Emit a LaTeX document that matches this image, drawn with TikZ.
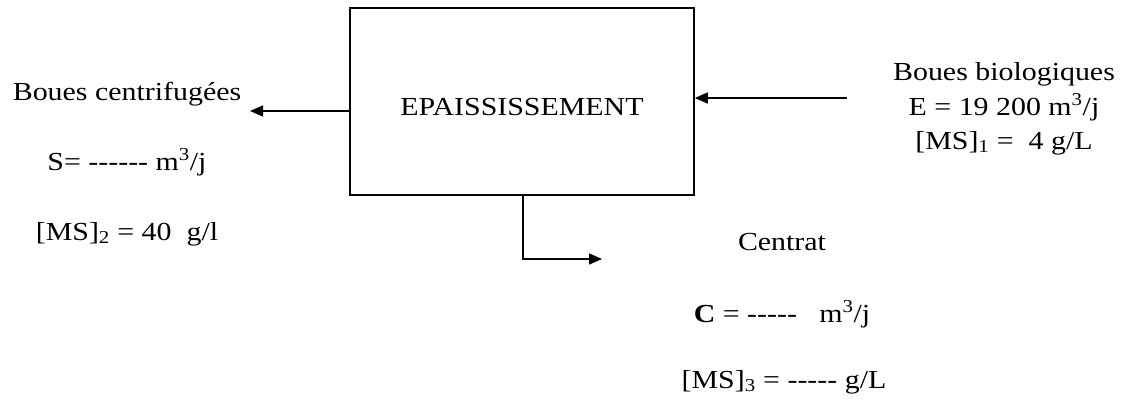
\documentclass[tikz,border=0pt]{standalone}
\usepackage{fontspec}
\setmainfont{Liberation Serif}[FakeStretch=1.15]
\usetikzlibrary{arrows.meta}
\def\hh{-\kern0pt}
\begin{document}
\begin{tikzpicture}[x=1pt,y=-1pt,
  txt/.style={font=\fontsize{26}{34}\selectfont, inner sep=0pt, anchor=base, align=center},
  boxst/.style={draw, line width=1.6pt, minimum width=344pt, minimum height=187pt, inner sep=0pt},
  arr/.style={line width=1.6pt, -{Triangle[length=13pt,width=11pt]}}]
\useasboundingbox (0,0) rectangle (1126,400);
\node[boxst] (box) at (522,101.5) {};
\node[txt] (lbl) at (522,115) {EPAISSISSEMENT};
% left output
\node[txt] (bc) at (127,100) {Boues centrifugées};
\node[txt] (s) at (127,170) {S= \hh\hh\hh\hh\hh\hh{} m\textsuperscript{3}/j};
\node[txt] (ms2) at (127,240) {[MS]\textsubscript{2} = 40\ \ g/l};
% right input
\node[txt] (bb) at (1004,80) {Boues biologiques};
\node[txt] (e) at (1004,115) {E = 19 200 m\textsuperscript{3}/j};
\node[txt] (ms1) at (1004,149) {[MS]\textsubscript{1} =\ \ 4 g/L};
% bottom output
\node[txt] (cen) at (782,250) {Centrat};
\node[txt] (c) at (782,322) {\textbf{C} = \hh\hh\hh\hh\hh{}\ \ \ m\textsuperscript{3}/j};
\node[txt] (ms3) at (784,388) {[MS]\textsubscript{3} = \hh\hh\hh\hh\hh{}\ g/L};
% connectors
\coordinate (sOut) at (250,111);
\coordinate (eIn) at (847,98);
\coordinate (cCorner) at (523,259);
\coordinate (cOut) at (602,259);
\draw[arr] (box.west |- sOut) -- (sOut);
\draw[arr] (eIn) -- (eIn -| box.east);
\draw[arr] (cCorner |- box.south) -- (cCorner) -- (cOut);
\end{tikzpicture}
\end{document}
